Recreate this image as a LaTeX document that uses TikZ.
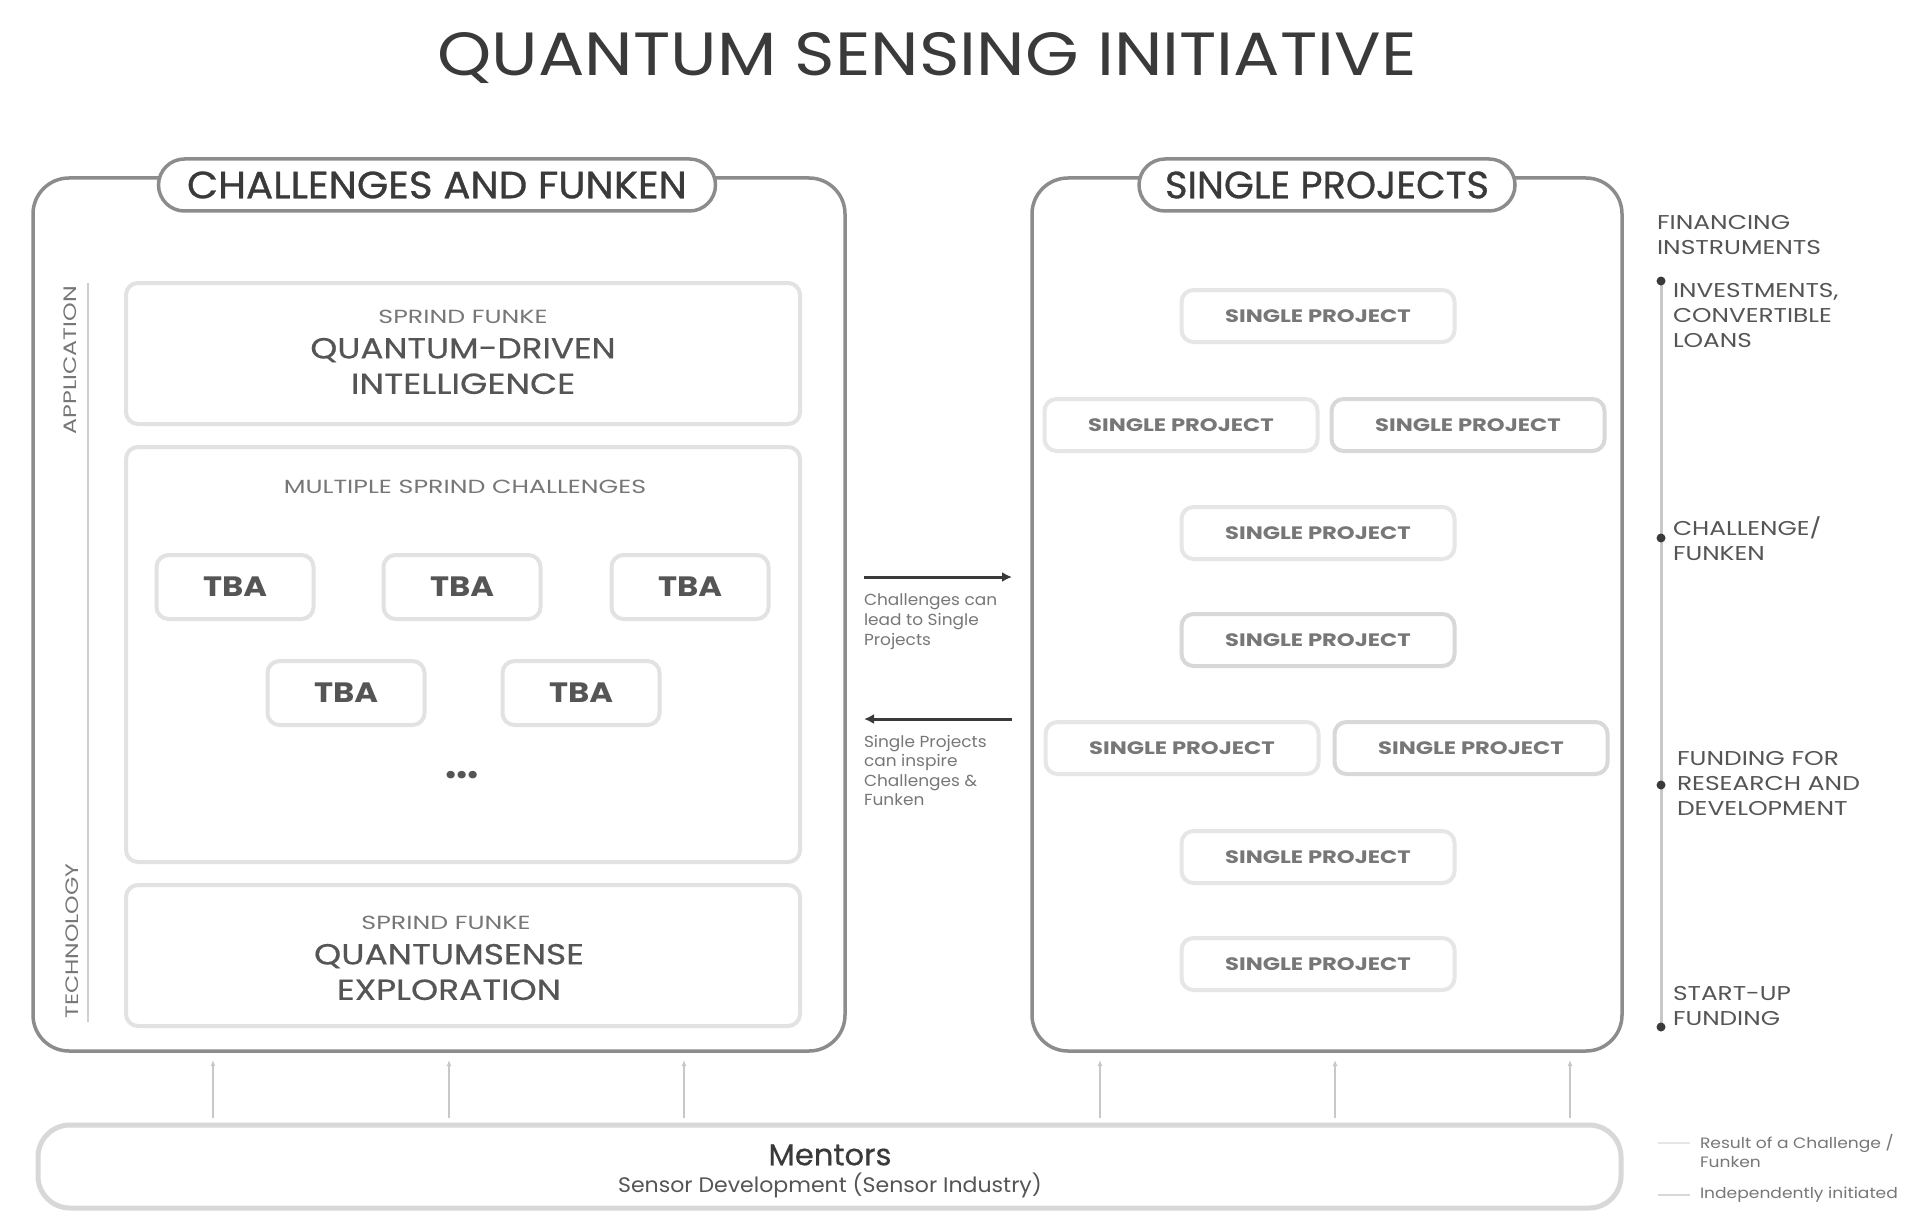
\documentclass[tikz,border=0pt]{standalone}
\usepackage{graphicx}
\usepackage{fontspec}
\setmainfont{Poppins}
\newfontfamily\popmed[FakeBold=0.8]{Poppins}
\newfontfamily\popsemi[FakeBold=0.5]{Poppins}
\usetikzlibrary{arrows.meta}
\definecolor{outerc}{HTML}{8C8C8C}
\definecolor{innerc}{HTML}{E2E2E2}
\definecolor{spa}{HTML}{E6E6E6}
\definecolor{spb}{HTML}{D8D8D8}
\definecolor{txtdark}{HTML}{3A3A3A}
\definecolor{txtmid}{HTML}{555555}
\definecolor{txtlight}{HTML}{777777}
\definecolor{linec}{HTML}{C8C8C8}
\newcommand\myfs[2]{\fontsize{#1}{#2}\selectfont}
\newcommand\hsc[2]{\scalebox{#1}[1]{#2}}
\tikzset{
  every node/.style={inner sep=0pt, outer sep=0pt},
  bigbox/.style={draw=outerc, line width=1.75pt, rounded corners=18pt, fill=white},
  pill/.style={draw=outerc, line width=1.75pt, rounded corners=13pt, fill=white,
    minimum height=26pt, text=txtdark, font=\popmed\myfs{19}{22}},
  innerbox/.style={draw=innerc, line width=2pt, rounded corners=6pt, minimum width=337pt},
  tbabox/.style={draw=innerc, line width=2pt, rounded corners=6pt, minimum width=78.5pt,
    minimum height=32pt, text=txtmid, font=\bfseries\myfs{14}{16}},
  spbox/.style={draw=spa, line width=2pt, rounded corners=6pt, minimum width=136.5pt,
    minimum height=26pt, text=txtlight, font=\bfseries\myfs{9}{11}},
  spboxi/.style={spbox, draw=spb},
  bigtxt/.style={text=txtmid, font=\popsemi\myfs{14.5}{17.75}, align=center},
  smalltxt/.style={text=txtlight, font=\myfs{9.5}{11}},
  midarrow/.style={draw=txtdark, line width=1.5pt, -{Latex[length=5pt,width=5pt]}},
  midtxt/.style={text=txtlight, font=\myfs{8}{9.8}, align=left},
  fintxt/.style={text=txtmid, font=\myfs{10}{12.5}, align=left, anchor=west},
  vline/.style={draw=linec, line width=1pt, -{Latex[length=3pt,width=2.5pt]}},
  dot/.style={circle, fill=txtdark, minimum size=4.5pt},
}
\begin{document}
\begin{tikzpicture}[x=0.5pt,y=-0.5pt]
\useasboundingbox[fill=white] (0,0) rectangle (1920,1230);

% title
\node[text=txtdark, font=\myfs{30.5}{34}] (title) at (927,58) {\hsc{1.13}{QUANTUM SENSING INITIATIVE}};

% big boxes
\node[bigbox, minimum width=406pt, minimum height=436.5pt] (L) at (439,614.5) {};
\node[bigbox, minimum width=295pt, minimum height=436.5pt] (R) at (1327,614.5) {};
\node[pill, minimum width=278.5pt] (Lh) at (437,185) {\hsc{1.06}{CHALLENGES AND FUNKEN}};
\node[pill, minimum width=188pt] (Rh) at (1327,185) {\hsc{1.01}{SINGLE PROJECTS}};

% left axis
\coordinate (ax1) at (88,283);
\coordinate (ax2) at (88,1022);
\draw[draw=innerc!80!gray, line width=1pt] (ax1) -- (ax2);
\node[rotate=90, text=txtlight, font=\myfs{9}{11}] (app) at (70,360) {\hsc{1.32}{APPLICATION}};
\node[rotate=90, text=txtlight, font=\myfs{9}{11}] (tech) at (72,941) {\hsc{1.31}{TECHNOLOGY}};

% inner boxes
\node[innerbox, minimum height=70.5pt] (B1) at (463,353.5) {};
\node[smalltxt] (B1s) at (463,317) {\hsc{1.33}{SPRIND FUNKE}};
\node[bigtxt] (B1t) at (463,366) {\hsc{1.18}{QUANTUM-DRIVEN}\\\hsc{1.21}{INTELLIGENCE}};

\node[innerbox, minimum height=207.5pt] (B2) at (463,654.5) {};
\node[smalltxt] (B2s) at (465,487) {\hsc{1.33}{MULTIPLE SPRIND CHALLENGES}};
\node[tbabox] (T1) at (235,587) {\hsc{1.15}{TBA}};
\node[tbabox] (T2) at (462,587) {\hsc{1.15}{TBA}};
\node[tbabox] (T3) at (690,587) {\hsc{1.15}{TBA}};
\node[tbabox] (T4) at (346,693) {\hsc{1.15}{TBA}};
\node[tbabox] (T5) at (581,693) {\hsc{1.15}{TBA}};
\node[text=txtmid, font=\bfseries\myfs{20}{22}] (dots) at (462,775) {...};

\node[innerbox, minimum height=70.5pt] (B3) at (463,955.5) {};
\node[smalltxt] (B3s) at (446,923) {\hsc{1.33}{SPRIND FUNKE}};
\node[bigtxt] (B3t) at (449,972) {\hsc{1.19}{QUANTUMSENSE}\\\hsc{1.19}{EXPLORATION}};

% single projects
\node[spbox]  (S1)  at (1318,316) {\hsc{1.26}{SINGLE PROJECT}};
\node[spbox]  (S2a) at (1181,425) {\hsc{1.26}{SINGLE PROJECT}};
\node[spboxi] (S2b) at (1468,425) {\hsc{1.26}{SINGLE PROJECT}};
\node[spbox]  (S3)  at (1318,533) {\hsc{1.26}{SINGLE PROJECT}};
\node[spboxi] (S4)  at (1318,640) {\hsc{1.26}{SINGLE PROJECT}};
\node[spbox]  (S5a) at (1182,748) {\hsc{1.26}{SINGLE PROJECT}};
\node[spboxi] (S5b) at (1471,748) {\hsc{1.26}{SINGLE PROJECT}};
\node[spbox]  (S6)  at (1318,857) {\hsc{1.26}{SINGLE PROJECT}};
\node[spbox]  (S7)  at (1318,964) {\hsc{1.26}{SINGLE PROJECT}};

% middle arrows
\coordinate (a1s) at (864,577);
\coordinate (a1e) at (1012,577);
\coordinate (a2s) at (1012,719);
\coordinate (a2e) at (864,719);
\draw[midarrow] (a1s) -- (a1e);
\draw[midarrow] (a2s) -- (a2e);
\node[midtxt, anchor=north west] (m1) at (864,594) {\hsc{1.06}{Challenges can}\\\hsc{1.06}{lead to Single}\\\hsc{1.06}{Projects}};
\node[midtxt, anchor=north west] (m2) at (864,735) {\hsc{1.06}{Single Projects}\\\hsc{1.06}{can inspire}\\\hsc{1.06}{Challenges \&}\\\hsc{1.06}{Funken}};

% financing timeline
\node[fintxt] (fin) at (1657,235.5) {\hsc{1.25}{FINANCING}\\\hsc{1.25}{INSTRUMENTS}};
\coordinate (t1) at (1661,281);
\coordinate (t4) at (1661,1027);
\draw[draw=linec, line width=1.5pt] (t1) -- (t4);
\node[dot] (d1) at (1661,281) {};
\node[dot] (d2) at (1661,538) {};
\node[dot] (d3) at (1661,785) {};
\node[dot] (d4) at (1661,1027) {};
\node[fintxt] (f1) at (1673,316) {\hsc{1.24}{INVESTMENTS,}\\\hsc{1.24}{CONVERTIBLE}\\\hsc{1.24}{LOANS}};
\node[fintxt] (f2) at (1673,538.5) {\hsc{1.24}{CHALLENGE/}\\\hsc{1.24}{FUNKEN}};
\node[fintxt] (f3) at (1677,784) {\hsc{1.25}{FUNDING FOR}\\\hsc{1.25}{RESEARCH AND}\\\hsc{1.25}{DEVELOPMENT}};
\node[fintxt] (f4) at (1673,1005.5) {\hsc{1.24}{START-UP}\\\hsc{1.24}{FUNDING}};

% legend
\coordinate (l1a) at (1658,1143);
\coordinate (l1b) at (1690,1143);
\coordinate (l2a) at (1658,1195);
\coordinate (l2b) at (1690,1195);
\draw[draw=spa, line width=1pt] (l1a) -- (l1b);
\draw[draw=spb, line width=1pt] (l2a) -- (l2b);
\node[midtxt, anchor=north west, font=\myfs{7.5}{9.5}] (lg1) at (1700,1134) {\hsc{1.14}{Result of a Challenge /}\\\hsc{1.14}{Funken}};
\node[midtxt, anchor=west, font=\myfs{7.5}{9.5}] (lg2) at (1700,1195) {\hsc{1.14}{Independently initiated}};

% mentors
\node[draw=spb, line width=2.5pt, rounded corners=16pt, minimum width=791.5pt, minimum height=41.5pt] (M) at (829.5,1166.5) {};
\node[text=txtdark, font=\popsemi\myfs{15}{17}] (Mt) at (830,1155) {\hsc{1.02}{Mentors}};
\node[text=txtmid, font=\myfs{10.5}{12}] (Ms) at (830,1185.5) {\hsc{1.05}{Sensor Development (Sensor Industry)}};

\foreach \i/\x in {1/213,2/449,3/684,4/1100,5/1335,6/1570}{
  \coordinate (mb\i) at (\x,1118);
  \coordinate (mt\i) at (\x,1060);
  \draw[vline] (mb\i) -- (mt\i);
}
\end{tikzpicture}
\end{document}
